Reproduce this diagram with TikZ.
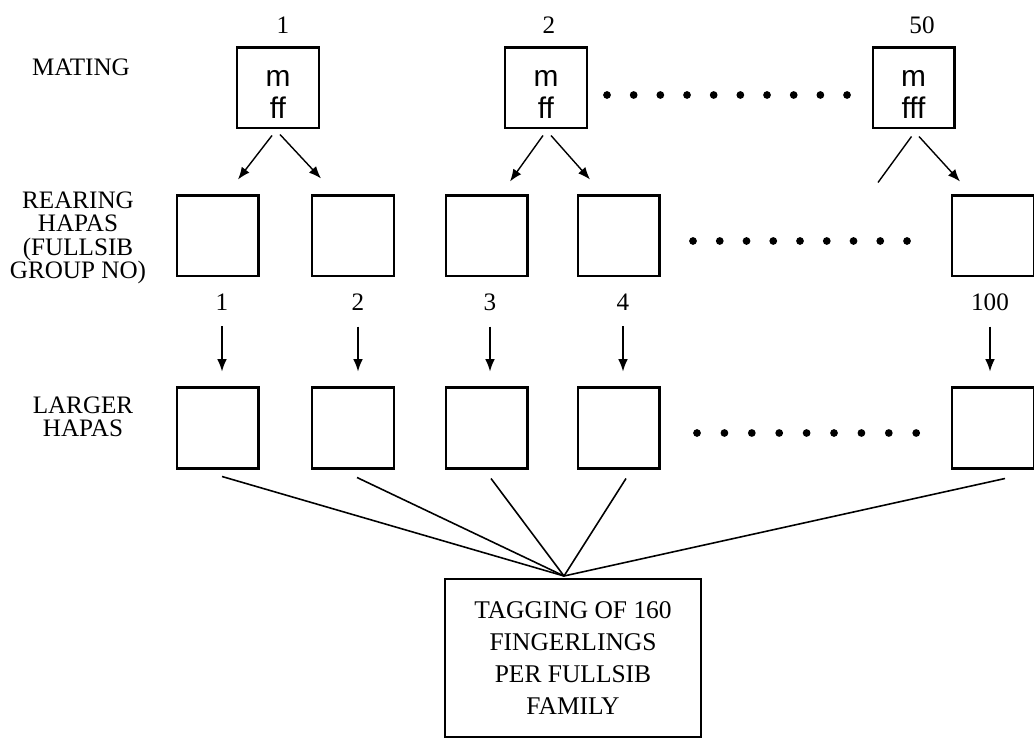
\documentclass[tikz,border=0pt]{standalone}
\usepackage{fontspec}
\setmainfont{Liberation Serif}
\setsansfont{Liberation Sans}
\usetikzlibrary{arrows.meta,calc}

\tikzset{
  hapa/.style={draw, line width=1.15pt, minimum width=1.64cm, minimum height=1.62cm, inner sep=0pt},
  pair/.style={hapa, align=center, font=\sffamily\fontsize{17}{18.2}\selectfont},
  lbl/.style={align=center, font=\fontsize{14.3}{13.4}\selectfont},
  num/.style={font=\fontsize{14.3}{16}\selectfont},
  arr/.style={-{Latex[length=7pt,width=5.5pt]}, line width=0.8pt},
  fan/.style={line width=0.9pt},
}

\begin{document}
\begin{tikzpicture}[x=0.02cm, y=-0.02cm]
  \useasboundingbox (0,0) rectangle (1034,739);

  \node[lbl] (mating) at (81,67) {MATING};
  \node[lbl] (rearing) at (78,238) {REARING\\HAPAS\\(FULLSIB\\GROUP NO)};
  \node[lbl] (larger) at (83,417) {LARGER\\HAPAS};

  \node[num] (t1) at (283,25) {1};
  \node[num] (t2) at (549,25) {2};
  \node[num] (t50) at (922,25) {50};

  \node[pair] (m1) at (278,88) {\rule{0pt}{17pt}m\\ff};
  \node[pair] (m2) at (546,88) {\rule{0pt}{17pt}m\\ff};
  \node[pair] (m50) at (913.5,88) {\rule{0pt}{17pt}m\\fff};

  \foreach \n/\x in {1/217.5, 2/353, 3/486.5, 4/618.5, 100/993} {
    \node[hapa] (r\n) at (\x,236) {};
    \node[hapa] (l\n) at (\x,428) {};
  }

  \foreach \i in {0,...,9}
    \fill (607+26.67*\i,95) circle (2.2pt);
  \foreach \i in {0,...,8} {
    \fill (693+26.75*\i,241) circle (2.2pt);
    \fill (697+27.4*\i,433) circle (2.2pt);
  }

  \draw[arr] ($(m1.south)+(-6,6)$) -- ($(r1.north)+(20.5,-15)$);
  \draw[arr] ($(m1.south)+(2,5)$) -- ($(r2.north)+(-32,-16)$);
  \draw[arr] ($(m2.south)+(-3,6)$) -- ($(r3.north)+(23.5,-13)$);
  \draw[arr] ($(m2.south)+(5,6)$) -- ($(r4.north)+(-28.5,-15)$);
  \coordinate (gap) at ($(r100.north)+(-115,-12)$);
  \draw[line width=0.8pt] ($(m50.south)+(-2,7)$) -- (gap);
  \draw[arr] ($(m50.south)+(5.5,7)$) -- ($(r100.north)+(-33,-13)$);

  \foreach \n/\x in {1/222, 2/358, 3/490, 4/623, 100/990} {
    \node[num] (k\n) at (\x,302) {\n};
    \draw[arr, shorten <=0.2cm, shorten >=0.3cm] (k\n) -- (k\n |- l\n.north);
  }

  \node[draw, line width=1.15pt, minimum width=5.12cm, minimum height=3.16cm, align=center,
        font=\fontsize{14.5}{18.2}\selectfont] (tag) at (573,658)
        {TAGGING OF 160\\FINGERLINGS\\PER FULLSIB\\FAMILY};
  \coordinate (hub) at ($(tag.north)+(-9,-2)$);

  \foreach \n/\dx/\dy in {1/4.5/7, 2/4/8, 3/4.5/9, 4/7.5/9, 100/12/9}
    \draw[fan] ($(l\n.south)+(\dx,\dy)$) -- (hub);
\end{tikzpicture}
\end{document}
